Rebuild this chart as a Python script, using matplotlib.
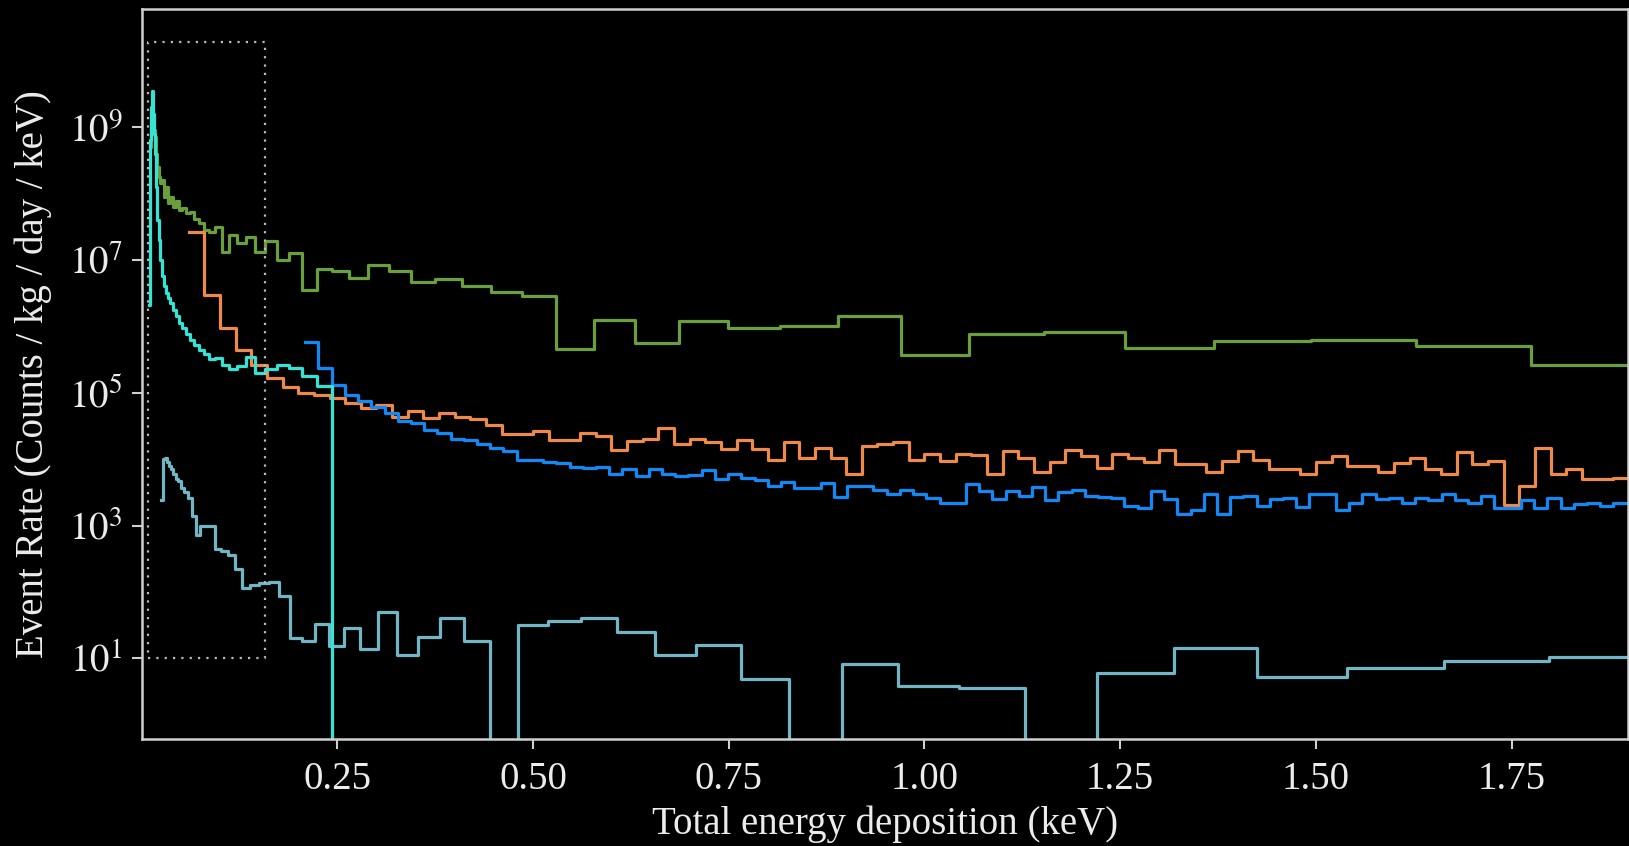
import numpy as np
import matplotlib
matplotlib.use("Agg")
import matplotlib.pyplot as plt

# log10(event rate) read per bin; None = empty bin
# fine log bins (shared by the two top-left spectra)
log_edges_a = 0.00706 * 1.0902 ** np.arange(66)
# coarser log bins of the lowest spectrum
log_edges_b = 0.02518 * 1.0807 ** np.arange(57)
# linear bins
lin_edges_orange = np.linspace(0.06, 1.92, 94)
lin_edges_blue = np.linspace(0.209, 1.897, 101)

green_log = [8.7, 9.0, 9.1, 9.05, 8.95,
             8.85, 8.6, 8.4, 8.25, 8.15, 8.2, 7.95, 8.1, 7.85, 7.95,
             7.8, 7.88, 7.75, 7.78, 7.70, 7.72, 7.62, 7.55, 7.45, 7.42,
             7.50, 7.12, 7.38, 7.25, 7.35, 7.12, 7.28, 7.0, 7.11, 6.54,
             6.87, 6.83, 6.72, 6.92, 6.83, 6.67, 6.71, 6.61, 6.51, 6.46,
             5.66, 6.10, 5.75, 6.08, 5.97, 6.00, 6.16, 5.56, 5.88, 5.92,
             5.67, 5.78, 5.80, 5.71, 5.42]
green_first_bin = 5

cyan_log = [6.32, 8.8, 9.3, 9.55, 9.2, 8.9, 8.6, 8.1, 7.6, 7.3,
            7.0, 6.75, 6.6, 6.5, 6.42, 6.35, 6.25, 6.15, 6.05, 5.97,
            5.88, 5.80, 5.72, 5.64, 5.58, 5.50, 5.52, 5.42, 5.36, 5.40,
            5.53, 5.30, 5.36, 5.41, 5.37, 5.25, 5.10, None]
cyan_first_bin = 4

orange_log = [7.42, 6.47, 5.97, 5.65, 5.41, 5.22, 5.09, 4.99,
              4.97, 4.92, 4.84, 4.77, 4.82, 4.64, 4.72, 4.62, 4.70, 4.64,
              4.60, 4.52, 4.38, 4.38, 4.42, 4.28, 4.28, 4.40, 4.35, 4.14,
              4.27, 4.30, 4.47, 4.23, 4.30, 4.25, 4.15, 4.28, 4.15, 3.98,
              4.26, 4.02, 4.17, 4.02, 3.78, 4.20, 4.23, 4.25, 3.99, 4.08,
              3.97, 4.08, 4.06, 3.77, 4.12, 4.02, 3.80, 3.95, 4.14, 4.04,
              3.87, 4.07, 4.01, 3.95, 4.14, 3.93, 3.92, 3.80, 3.97, 4.12,
              3.99, 3.85, 3.85, 3.78, 3.95, 4.04, 3.90, 3.90, 3.80, 3.94,
              4.02, 3.85, 3.77, 4.10, 3.93, 3.97, 3.31, 3.59, 4.17, 3.78,
              3.85, 3.70, 3.70, 3.71, 4.05]

blue_log = [5.77, 5.37, 5.12, 4.97, 4.87, 4.79, 4.69, 4.57, 4.55, 4.44,
            4.39, 4.30, 4.29, 4.22, 4.17, 4.12, 3.99, 3.98, 3.95, 3.94,
            3.88, 3.86, 3.88, 3.77, 3.85, 3.74, 3.85, 3.77, 3.74, 3.76,
            3.83, 3.70, 3.77, 3.72, 3.69, 3.59, 3.65, 3.57, 3.57, 3.64,
            3.43, 3.60, 3.60, 3.54, 3.48, 3.54, 3.48, 3.42, 3.34, 3.34,
            3.63, 3.52, 3.40, 3.52, 3.44, 3.58, 3.38, 3.50, 3.54, 3.44,
            3.43, 3.42, 3.29, 3.27, 3.52, 3.40, 3.18, 3.24, 3.48, 3.17,
            3.43, 3.44, 3.30, 3.40, 3.42, 3.28, 3.47, 3.47, 3.24, 3.34,
            3.47, 3.40, 3.42, 3.34, 3.42, 3.39, 3.48, 3.38, 3.34, 3.44,
            3.27, 3.27, 3.39, 3.27, 3.42, 3.27, 3.33, 3.34, 3.30, 3.34]

teal_log = [3.39, 4.0, 4.02, 3.95, 3.89, 3.85, 3.77, 3.70, 3.67, 3.56,
            3.50, 3.42, 3.14, 2.86, 3.0, 3.0, 3.0, 2.64, 2.62, 2.56,
            2.34, 2.06, 2.11, 2.14, 2.15, 1.94, 1.31, 1.26, 1.51, 1.185,
            1.45, 1.14, 1.70, 1.045, 1.327, 1.60, 1.26, None, 1.50, 1.56,
            1.60, 1.40, 1.045, 1.195, 0.695, None, 0.92, 0.59, 0.56, None,
            0.785, 1.16, 0.725, 0.86, 0.96, 1.02]

x_ticks = [0.25, 0.50, 0.75, 1.00, 1.25, 1.50, 1.75]
y_ticks = [1e1, 1e3, 1e5, 1e7, 1e9]
y_tick_labels = [r"$10^{1}$", r"$10^{3}$", r"$10^{5}$", r"$10^{7}$", r"$10^{9}$"]

colors = {"green": "#6a9f3c", "orange": "#ee8a48", "blue": "#1288f5",
          "teal": "#72b6c6", "cyan": "#35e3d5"}


def to_rate(logs):
    return np.array([10.0 ** v if v is not None else 0.0 for v in logs])


def draw_hist(ax, edges, logs, color):
    vals = to_rate(logs)
    ax.step(edges[:len(vals) + 1], np.append(vals, vals[-1]), where="post",
            color=color, lw=2.3)


plt.rcParams["font.family"] = "serif"
plt.rcParams["font.serif"] = ["Liberation Serif", "DejaVu Serif"]
plt.rcParams["mathtext.fontset"] = "stix"

fig = plt.figure(figsize=(16.29, 8.46), dpi=100, facecolor="black")
ax = fig.add_axes([0.0872, 0.1265, 0.9122, 0.8629])
ax.set_facecolor("black")
ax.set_yscale("log")

draw_hist(ax, log_edges_a[green_first_bin:], green_log, colors["green"])
draw_hist(ax, lin_edges_orange, orange_log, colors["orange"])
draw_hist(ax, lin_edges_blue, blue_log, colors["blue"])
draw_hist(ax, log_edges_b, teal_log, colors["teal"])
draw_hist(ax, log_edges_a[cyan_first_bin:], cyan_log, colors["cyan"])

# dotted box around the low energy region
bx = [0.0075, 0.158, 0.158, 0.0075, 0.0075]
by = [1e1, 1e1, 1.9e10, 1.9e10, 1e1]
ax.plot(bx, by, color="#bbbbbb", lw=1.6, linestyle=(0, (1, 2.75)))

ax.set_xlim(0.0005, 1.8988)
ax.set_ylim(0.61, 6.0e10)
ax.set_xticks(x_ticks)
ax.set_xticklabels([f"{t:.2f}" for t in x_ticks])
ax.set_yticks(y_ticks)
ax.set_yticklabels(y_tick_labels)
ax.yaxis.set_minor_locator(matplotlib.ticker.NullLocator())

for s in ax.spines.values():
    s.set_color("#cfcfcf")
    s.set_linewidth(1.8)
ax.tick_params(colors="#cfcfcf", labelcolor="#ececec", labelsize=28,
               length=7, width=1.5)
ax.tick_params(axis="x", pad=9)
ax.tick_params(axis="y", pad=7)

ax.set_xlabel("Total energy deposition (keV)", color="#ececec", fontsize=28,
              labelpad=5)
ax.set_ylabel("Event Rate (Counts / kg / day / keV)", color="#ececec",
              fontsize=28, labelpad=12)

fig.savefig("out.png", dpi=100, facecolor="black")
